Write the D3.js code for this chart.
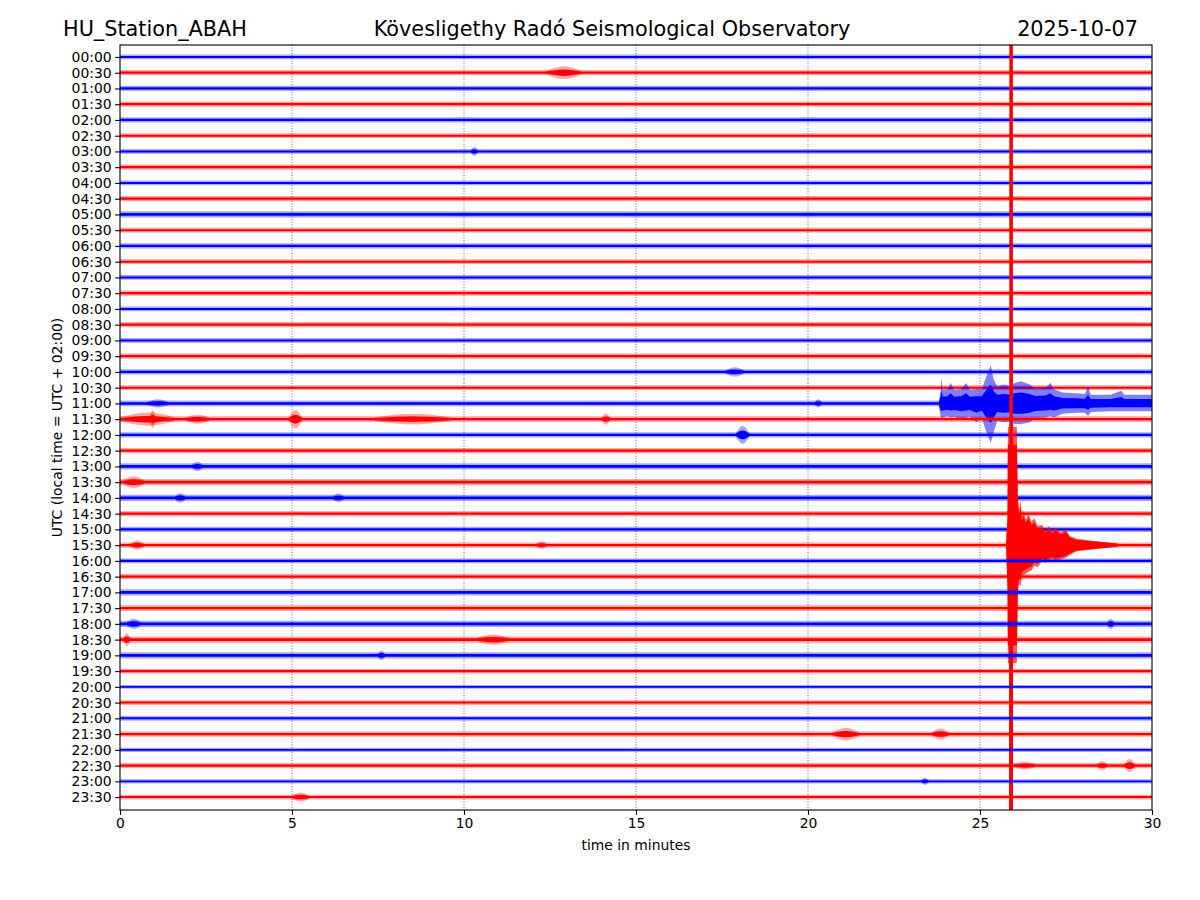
<!DOCTYPE html>
<html lang="en">
<head>
<meta charset="UTF-8">
<title>HU_Station_ABAH helicorder</title>
<style>
  body { margin: 0; background: #fff; }
  svg { font-family: "DejaVu Sans", sans-serif; }
</style>
</head>
<body>
<div id="chart"></div>
<script src="https://cdn.jsdelivr.net/npm/d3@7/dist/d3.min.js"></script>
<script>
// one trace per half hour, 30 minutes long
const traceLabels = ["00:00","00:30","01:00","01:30","02:00","02:30","03:00","03:30",
  "04:00","04:30","05:00","05:30","06:00","06:30","07:00","07:30",
  "08:00","08:30","09:00","09:30","10:00","10:30","11:00","11:30",
  "12:00","12:30","13:00","13:30","14:00","14:30","15:00","15:30",
  "16:00","16:30","17:00","17:30","18:00","18:30","19:00","19:30",
  "20:00","20:30","21:00","21:30","22:00","22:30","23:00","23:30"];

const xTicks = [0, 5, 10, 15, 20, 25, 30];

// background noise half-width of each trace (in trace spacings)
const baseAmp = [0.10,0.11,0.11,0.11,0.11,0.10,0.10,0.11,
  0.10,0.11,0.13,0.10,0.11,0.10,0.10,0.11,
  0.10,0.11,0.10,0.11,0.11,0.10,0.12,0.12,
  0.11,0.11,0.13,0.13,0.13,0.11,0.11,0.11,
  0.10,0.11,0.13,0.12,0.13,0.13,0.13,0.10,
  0.08,0.10,0.10,0.11,0.09,0.11,0.09,0.10];

// small bursts: [trace, start min, end min, extra half-width]
const bursts = [
  [1, 12.4, 13.4, 0.2], [6, 10.2, 10.4, 0.12], [20, 17.6, 18.15, 0.12],
  [22, 0.8, 1.4, 0.08], [22, 20.2, 20.4, 0.08],
  [23, 0.0, 1.6, 0.2], [23, 0.85, 1.05, 0.3], [23, 1.9, 2.6, 0.1],
  [23, 4.9, 5.3, 0.32], [23, 7.4, 9.6, 0.14], [23, 14.0, 14.25, 0.14],
  [24, 17.9, 18.3, 0.32], [26, 2.1, 2.4, 0.1], [27, 0.1, 0.7, 0.16],
  [28, 1.6, 1.9, 0.1], [28, 6.2, 6.5, 0.08], [31, 0.3, 0.7, 0.12], [31, 12.1, 12.4, 0.08],
  [36, 0.2, 0.6, 0.12], [36, 28.7, 28.9, 0.12], [37, 0.1, 0.3, 0.18], [37, 10.4, 11.3, 0.12],
  [38, 7.5, 7.7, 0.1], [43, 20.7, 21.5, 0.2], [43, 23.6, 24.1, 0.16],
  [45, 26.0, 26.6, 0.08], [45, 28.4, 28.7, 0.12], [45, 29.2, 29.5, 0.22],
  [46, 23.3, 23.5, 0.08], [47, 5.0, 5.5, 0.12]
];

// 11:00 trace, local event
const localTrace = 22;
const localTimes = [23.80, 23.86, 23.88, 23.92, 24.05, 24.15, 24.25, 24.45, 24.6, 24.7, 24.9, 25.05, 25.15, 25.31, 25.4, 25.5, 25.7, 25.87,
  26.0, 26.2, 26.45, 26.6, 26.9, 27.05, 27.15, 27.4, 27.8, 28.05, 28.14, 28.22, 28.8, 29.1, 29.2, 30.0];
const localUp    = [0.1, 0.9, 1.65, 0.85, 0.9, 1.3, 0.85, 0.9, 1.3, 0.85, 0.9, 0.9, 1.5, 2.4, 1.5, 1.1, 1.2, 1.1,
  1.3, 1.4, 1.2, 0.95, 1.0, 1.3, 0.9, 0.7, 0.65, 0.6, 1.1, 0.55, 0.55, 0.8, 0.55, 0.55];
const localDown  = [0.1, 0.9, 0.95, 0.9, 0.8, 0.9, 0.85, 1.0, 0.9, 0.85, 1.2, 0.9, 1.6, 2.5, 1.8, 1.1, 1.2, 1.15,
  1.3, 1.3, 1.2, 0.95, 0.9, 0.8, 0.9, 0.65, 0.6, 0.6, 0.8, 0.55, 0.5, 0.5, 0.5, 0.5];

// 15:30 trace, large event (clipped by the axes)
const quakeTrace = 31;
const quakeTimes = [25.76, 25.80, 25.81, 25.845, 25.85, 25.855, 25.86, 25.95, 25.955, 25.96, 26.07,
  26.1, 26.14, 26.18, 26.22, 26.27, 26.33, 26.4, 26.5, 26.58, 26.68, 26.8, 26.9, 27.0, 27.1, 27.2, 27.35, 27.5,
  27.6, 27.8, 28.2, 28.8, 29.0];
const quakeUp    = [0.1, 2.0, 7.5, 7.5, 7.5, 7.5, 60, 60, 7.5, 7.5, 7.5,
  3.2, 2.2, 2.9, 1.8, 2.2, 1.6, 2.0, 1.5, 1.7, 1.2, 1.3, 0.9, 1.2, 0.9, 1.1, 0.8, 1.0,
  0.6, 0.4, 0.3, 0.15, 0.1];
const quakeDown  = [0.1, 3.0, 7.5, 7.5, 60, 60, 60, 60, 60, 7.5, 7.5,
  3.0, 2.5, 2.6, 2.0, 1.9, 1.8, 1.7, 1.6, 1.3, 1.4, 1.0, 1.1, 1.0, 0.9, 1.0, 0.9, 0.8,
  0.65, 0.4, 0.3, 0.15, 0.1];

const W = 1200, H = 900;
const margin = {top: 45, right: 48, bottom: 90, left: 120};

const svg = d3.select("#chart").append("svg")
  .attr("width", W)
  .attr("height", H);

const x = d3.scaleLinear().domain([0, 30]).range([margin.left, W - margin.right]);
const y = d3.scaleLinear().domain([-0.76, 47.82]).range([margin.top, H - margin.bottom]);

svg.append("defs").append("clipPath").attr("id", "plot")
  .append("rect")
  .attr("x", x(0)).attr("y", y.range()[0])
  .attr("width", x(30) - x(0)).attr("height", y.range()[1] - y.range()[0]);

// dotted grid
svg.append("g")
  .selectAll("line")
  .data(xTicks.slice(1, -1))
  .join("line")
  .attr("x1", d => x(d)).attr("x2", d => x(d))
  .attr("y1", y.range()[0]).attr("y2", y.range()[1])
  .attr("stroke", "#444")
  .attr("stroke-width", 0.8)
  .attr("stroke-dasharray", "1,1.6");

const area = d3.area()
  .x(d => x(d.t))
  .y0(d => y(d.i + d.lo))
  .y1(d => y(d.i - d.hi));

const traces = svg.append("g").attr("clip-path", "url(#plot)");

// envelope drawn twice: a soft outer fringe and a solid core
function drawShape(g, pts, color, core, fringeOpacity, curve) {
  const scaled = f => pts.map(p => ({t: p.t, i: p.i, hi: p.hi * f, lo: p.lo * f}));
  g.append("path")
    .datum(scaled(1))
    .attr("fill", color)
    .attr("fill-opacity", fringeOpacity)
    .attr("d", area.curve(curve));
  g.append("path")
    .datum(scaled(core))
    .attr("fill", color)
    .attr("d", area.curve(curve));
}

traceLabels.forEach((lab, i) => {
  const color = i % 2 === 0 ? "#0000ff" : "#ff0000";
  const g = traces.append("g");
  const b = baseAmp[i];

  drawShape(g, [0, 30].map(t => ({t, i, hi: b * 1.5, lo: b * 1.5})), color, 0.43, 0.35, d3.curveLinear);

  bursts.filter(d => d[0] === i).forEach(d => {
    const mid = (d[1] + d[2]) / 2;
    drawShape(g, [
      {t: d[1], i, hi: b, lo: b},
      {t: mid, i, hi: (b + d[3]) * 1.3, lo: (b + d[3]) * 1.3},
      {t: d[2], i, hi: b, lo: b}
    ], color, 0.5, 0.35, d3.curveMonotoneX);
  });

  if (i === localTrace) {
    drawShape(g, localTimes.map((t, k) => ({t, i, hi: localUp[k], lo: localDown[k]})),
      color, 0.5, 0.5, d3.curveLinear);
  }
  if (i === quakeTrace) {
    drawShape(g, quakeTimes.map((t, k) => ({t, i, hi: quakeUp[k], lo: quakeDown[k]})),
      color, 0.85, 0.65, d3.curveLinear);
  }
});

// axes
const yAxis = d3.axisLeft(y)
  .tickValues(d3.range(traceLabels.length))
  .tickFormat(i => traceLabels[i])
  .tickSize(4.9)
  .tickPadding(3.5);

const xAxis = d3.axisBottom(x)
  .tickValues(xTicks)
  .tickSize(4.9)
  .tickPadding(3.5);

const gy = svg.append("g")
  .attr("transform", `translate(${x(0)},0)`)
  .call(yAxis);
const gx = svg.append("g")
  .attr("transform", `translate(0,${y.range()[1]})`)
  .call(xAxis);

[gx, gy].forEach(g => {
  g.select(".domain").remove();
  g.selectAll("text").attr("font-size", 13.9).attr("fill", "#000")
    .attr("font-family", "DejaVu Sans, sans-serif");
  g.selectAll(".tick line").attr("stroke", "#000").attr("stroke-width", 1.1);
});

// frame
svg.append("rect")
  .attr("x", x(0)).attr("y", y.range()[0])
  .attr("width", x(30) - x(0)).attr("height", y.range()[1] - y.range()[0])
  .attr("fill", "none")
  .attr("stroke", "#000")
  .attr("stroke-width", 1.1);

// titles
const titleY = 35.5;
svg.append("text").attr("x", 63).attr("y", titleY)
  .attr("font-size", 20.8).text("HU_Station_ABAH");
svg.append("text").attr("x", 612).attr("y", titleY)
  .attr("font-size", 20.8).attr("text-anchor", "middle")
  .text("Kövesligethy Radó Seismological Observatory");
svg.append("text").attr("x", 1138).attr("y", titleY)
  .attr("font-size", 20.8).attr("text-anchor", "end").text("2025-10-07");

svg.append("text")
  .attr("x", (x(0) + x(30)) / 2).attr("y", 850)
  .attr("font-size", 13.9).attr("text-anchor", "middle")
  .text("time in minutes");

svg.append("text")
  .attr("transform", `translate(62,${(y.range()[0] + y.range()[1]) / 2}) rotate(-90)`)
  .attr("font-size", 13.9).attr("text-anchor", "middle")
  .text("UTC (local time = UTC + 02:00)");
</script>
</body>
</html>
